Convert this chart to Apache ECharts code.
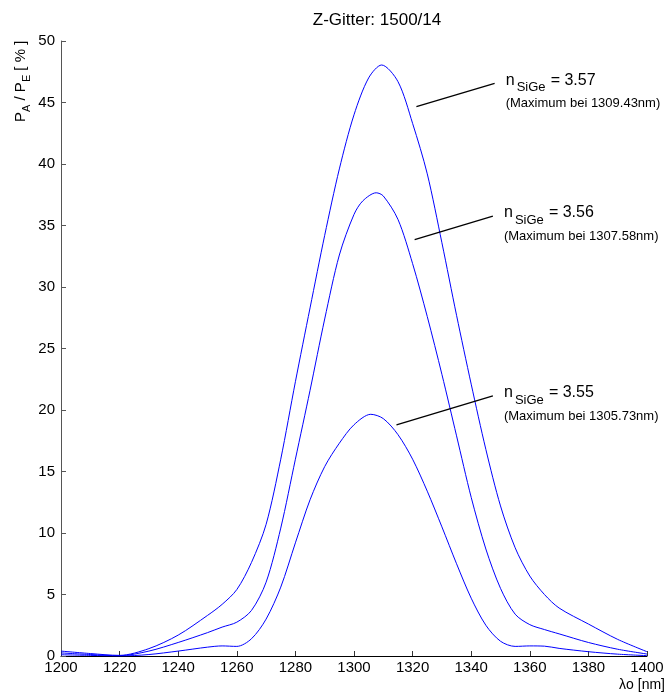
<!DOCTYPE html>
<html>
<head>
<meta charset="utf-8">
<title>Z-Gitter 1500/14</title>
<script src="https://cdn.jsdelivr.net/npm/echarts@6/dist/echarts.min.js"></script>
<style>
  html, body { margin: 0; padding: 0; background: #fff; }
  #main { width: 667px; height: 693px; }
</style>
</head>
<body>
<div id="main"></div>
<script>
// Wellenlaenge [nm] und P_A/P_E [%] je Kurve
var wl357 = [1200, 1210, 1220, 1230, 1240, 1250, 1255, 1260, 1265, 1270, 1275, 1280, 1285, 1290, 1295, 1300, 1305, 1309.43, 1315, 1320, 1325, 1330, 1335, 1340, 1345, 1350, 1355, 1360, 1365, 1370, 1380, 1390, 1400];
var p357  = [0.4, 0.2, 0.05, 0.6, 1.7, 3.3, 4.2, 5.4, 7.6, 10.7, 16.0, 22.3, 28.3, 34.2, 39.6, 44.0, 47.0, 48.05, 46.7, 43.3, 39.2, 33.6, 27.7, 22.1, 16.8, 12.2, 8.8, 6.5, 5.0, 3.9, 2.6, 1.35, 0.35];

var wl356 = [1200, 1210, 1220, 1230, 1240, 1250, 1255, 1260, 1265, 1270, 1275, 1280, 1285, 1290, 1295, 1300, 1303, 1307.58, 1310, 1315, 1320, 1325, 1330, 1335, 1340, 1345, 1350, 1355, 1360, 1365, 1370, 1380, 1390, 1400];
var p356  = [0.25, 0.12, 0.02, 0.4, 1.1, 1.9, 2.35, 2.75, 3.7, 6.0, 10.4, 16.0, 21.6, 27.4, 32.6, 35.9, 37.0, 37.66, 37.4, 35.5, 31.9, 27.6, 22.9, 17.9, 12.9, 8.7, 5.5, 3.4, 2.55, 2.15, 1.8, 1.1, 0.55, 0.16];

var wl355 = [1200, 1210, 1220, 1230, 1240, 1250, 1255, 1260, 1265, 1270, 1275, 1280, 1285, 1290, 1295, 1300, 1305.73, 1310, 1315, 1320, 1325, 1330, 1335, 1340, 1345, 1350, 1355, 1360, 1365, 1370, 1380, 1390, 1400];
var p355  = [0.1, 0.05, 0.0, 0.12, 0.4, 0.72, 0.82, 0.78, 1.4, 3.0, 5.6, 9.2, 12.7, 15.4, 17.3, 18.8, 19.65, 19.3, 18.0, 16.0, 13.4, 10.5, 7.5, 4.7, 2.5, 1.2, 0.78, 0.82, 0.8, 0.62, 0.35, 0.15, 0.03];

// Beschriftungen: n_SiGe, Maximum, Linie von Kurve zum Text
var nSiGe = ['3.57', '3.56', '3.55'];
var maxWl = ['1309.43', '1307.58', '1305.73'];
var annoFrom = [[1321.3, 44.66], [1320.7, 33.85], [1314.5, 18.79]];
var annoTo   = [[1348.0, 46.55], [1347.4, 35.77], [1347.4, 21.14]];

var xTicks = { min: 1200, max: 1400, step: 20 };
var yTicks = { min: 0, max: 50, step: 5 };

var FONT = '"Liberation Sans", Arial, Helvetica, sans-serif';
var BLUE = '#0000ff';

function pairs(xs, ys) {
  return xs.map(function (x, i) { return [x, ys[i]]; });
}

var curves = [pairs(wl357, p357), pairs(wl356, p356), pairs(wl355, p355)];

var chart = echarts.init(document.getElementById('main'));

var series = curves.map(function (d, i) {
  return {
    type: 'line',
    data: d,
    smooth: 0.3,
    showSymbol: false,
    symbol: 'none',
    lineStyle: { color: BLUE, width: 1 },
    markLine: {
      silent: true,
      symbol: 'none',
      animation: false,
      label: { show: false },
      lineStyle: { color: '#000', width: 1.3, type: 'solid' },
      data: [[{ coord: annoFrom[i] }, { coord: annoTo[i] }]]
    }
  };
});

chart.setOption({
  animation: false,
  backgroundColor: '#fff',
  grid: { left: 61, right: 20, top: 41, bottom: 37 },
  xAxis: {
    type: 'value',
    min: xTicks.min, max: xTicks.max, interval: xTicks.step,
    axisLine: { onZero: false, lineStyle: { color: '#000', width: 1 } },
    axisTick: { inside: true, length: 5, lineStyle: { color: '#333' } },
    axisLabel: { color: '#000', fontSize: 15, fontFamily: FONT, margin: 4, formatter: function (v) { return String(v); } },
    splitLine: { show: false }
  },
  yAxis: {
    type: 'value',
    min: yTicks.min, max: yTicks.max, interval: yTicks.step,
    axisLine: { show: true, lineStyle: { color: '#555', width: 1 } },
    axisTick: { show: true, inside: true, length: 5, lineStyle: { color: '#555' } },
    axisLabel: { color: '#000', fontSize: 15, fontFamily: FONT, margin: 6 },
    splitLine: { show: false }
  },
  series: series
});

// Texte (Titel, Achsenbeschriftung, Anmerkungen)
var gfx = [];
function txt(x, y, s, size, align) {
  return {
    type: 'text', x: x, y: y, silent: true,
    style: { text: s, fill: '#000', font: size + 'px ' + FONT, textAlign: align || 'left', textVerticalAlign: 'middle' }
  };
}

gfx.push(txt(377, 20, 'Z-Gitter: 1500/14', 17, 'center'));
gfx.push(txt(665, 685, 'λo [nm]', 14, 'right'));

// y-Achsentitel P_A / P_E [ % ], gedreht
gfx.push({
  type: 'group', x: 21, y: 122, rotation: Math.PI / 2, silent: true,
  children: [
    txt(0, 0, 'P', 15), txt(10, 6, 'A', 11),
    txt(17.3, 0, ' / P', 15), txt(39.9, 6, 'E', 11),
    txt(47.2, 0, ' [ % ]', 15)
  ]
});

annoTo.forEach(function (pt, i) {
  var p = chart.convertToPixel({ gridIndex: 0 }, pt);
  var ex = p[0], ey = p[1];
  gfx.push(txt(ex + 11, ey - 3, 'n', 16));
  gfx.push(txt(ex + 22, ey + 4, 'SiGe', 13));
  gfx.push(txt(ex + 56, ey - 3, '= ' + nSiGe[i], 16));
  gfx.push(txt(ex + 11, ey + 20, '(Maximum bei ' + maxWl[i] + 'nm)', 13));
});

chart.setOption({ graphic: gfx });
</script>
</body>
</html>
